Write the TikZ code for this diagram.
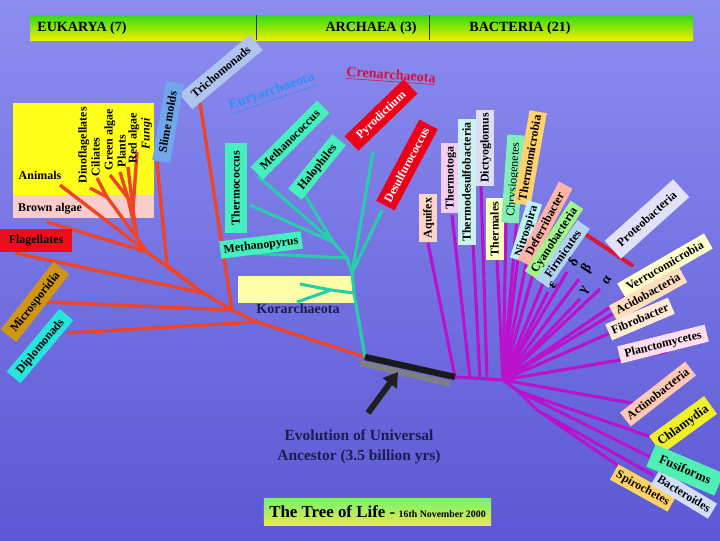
\documentclass[tikz,border=0pt]{standalone}
\usepackage{fontspec}
\setmainfont{Liberation Serif}
\usetikzlibrary{arrows.meta}

\definecolor{skytop}{RGB}{140,141,240}
\definecolor{skybot}{RGB}{92,88,212}
\definecolor{bargreen}{RGB}{50,220,20}
\definecolor{baryellow}{RGB}{238,238,0}
\definecolor{eukred}{RGB}{238,68,40}
\definecolor{arcteal}{RGB}{40,206,170}
\definecolor{bacmag}{RGB}{186,18,204}
\definecolor{inknavy}{RGB}{28,28,78}
\definecolor{crownyel}{RGB}{255,255,25}
\definecolor{crownpink}{RGB}{250,205,205}
\definecolor{flagred}{RGB}{240,12,28}
\definecolor{microgold}{RGB}{206,150,18}
\definecolor{diplocyan}{RGB}{40,228,222}
\definecolor{trichoblue}{RGB}{176,196,240}
\definecolor{slimeblue}{RGB}{112,166,236}
\definecolor{euryblue}{RGB}{45,145,245}
\definecolor{crenred}{RGB}{214,18,52}
\definecolor{pyrored}{RGB}{240,0,24}
\definecolor{arcbox}{RGB}{70,240,190}
\definecolor{korbox}{RGB}{255,255,170}
\definecolor{aqubox}{RGB}{255,212,200}
\definecolor{tmtbox}{RGB}{245,205,240}
\definecolor{tdsbox}{RGB}{205,242,240}
\definecolor{dicbox}{RGB}{222,222,246}
\definecolor{tmlbox}{RGB}{255,255,190}
\definecolor{chrbox}{RGB}{130,240,180}
\definecolor{tmcbox}{RGB}{255,210,110}
\definecolor{nitbox}{RGB}{190,240,250}
\definecolor{defbox}{RGB}{255,180,170}
\definecolor{cyabox}{RGB}{160,245,140}
\definecolor{firbox}{RGB}{180,210,245}
\definecolor{probox}{RGB}{225,225,250}
\definecolor{prored}{RGB}{222,20,50}
\definecolor{verbox}{RGB}{255,255,205}
\definecolor{acibox}{RGB}{255,222,190}
\definecolor{fibbox}{RGB}{255,236,216}
\definecolor{plabox}{RGB}{255,222,238}
\definecolor{actbox}{RGB}{255,200,180}
\definecolor{chlbox}{RGB}{240,240,40}
\definecolor{fusbox}{RGB}{80,240,180}
\definecolor{bacbox}{RGB}{210,222,250}
\definecolor{spibox}{RGB}{255,210,100}
\definecolor{tolgreen}{RGB}{115,242,110}
\definecolor{tolyellow}{RGB}{232,232,80}
\definecolor{rootgrey}{RGB}{128,128,128}

\tikzset{
  lbl/.style={font=\fontsize{8.5}{9}\selectfont\bfseries, inner xsep=2.5pt, inner ysep=1.5pt,
              text height=1.6ex, text depth=.45ex},
  slim/.style={lbl, inner ysep=0.7pt},
  crown/.style={lbl, rotate=90, anchor=west, inner sep=0.5pt},
  clade/.style={font=\fontsize{10}{12}\selectfont\bfseries, inner sep=1pt},
  greek/.style={font=\fontsize{10}{10}\selectfont\bfseries, inner sep=0.5pt, rotate=58},
  eukbr/.style={eukred, line width=2.4pt},
  arcbr/.style={arcteal, line width=2.2pt},
  bacbr/.style={bacmag, line width=2.2pt},
}

\begin{document}
\begin{tikzpicture}[x=0.025cm, y=-0.025cm, line join=round]

  % --- background ---
  \useasboundingbox (0,0) rectangle (720,540);
  \shade[top color=skytop, bottom color=skybot] (0,0) rectangle (720,540);

  % --- domains bar ---
  \shade[top color=bargreen, bottom color=baryellow] (30,15) rectangle (693,40);
  \draw[black!80, line width=0.6pt] (256,15) -- (256,40) (429,15) -- (429,40);
  \node[clade] (hdeuk) at (82,28) {EUKARYA (7)};
  \node[clade] (hdarc) at (371,28) {ARCHAEA (3)};
  \node[clade] (hdbac) at (520,28) {BACTERIA (21)};

  % --- coloured panels ---
  \fill[crownyel] (13,103) rectangle (154,195);
  \fill[crownpink] (13,195) rectangle (154,218);
  \fill[korbox] (238,276) rectangle (354,303);

  % --- branch points ---
  \coordinate (root) at (365,357);
  \coordinate (bbar) at (455,377);
  % eukarya
  \coordinate (e1) at (257,322);
  \coordinate (e2) at (232,310);
  \coordinate (e3) at (203,293);
  \coordinate (e4) at (167,265);
  \coordinate (e5) at (147,252);
  \coordinate (e6) at (137,238);
  \coordinate (c1) at (107,197);
  \coordinate (c2) at (128,198);
  \coordinate (c3) at (133,210);
  % archaea
  \coordinate (a1) at (354,293);
  \coordinate (a2) at (352,273);
  \coordinate (a3) at (347,258);
  \coordinate (a4) at (333,242);
  \coordinate (k0) at (331,290);
  % bacteria
  \coordinate (bq1) at (470,378);
  \coordinate (bq2) at (480,379);
  \coordinate (bq3) at (487,379);
  \coordinate (b0) at (503,380);
  \coordinate (b1) at (518,391);
  \coordinate (b2) at (537,410);

  % --- branch tips ---
  \coordinate (t-diplo) at (67,333);
  \coordinate (t-micro) at (45,302);
  \coordinate (t-tricho) at (200,103);
  \coordinate (t-flag) at (15,253);
  \coordinate (t-slime) at (157,162);
  \coordinate (t-animal) at (60,185);
  \coordinate (t-brown) at (47,222);
  \coordinate (t-dino) at (90,188);
  \coordinate (t-cilia) at (97,178);
  \coordinate (t-green) at (110,175);
  \coordinate (t-plant) at (120,172);
  \coordinate (t-redalg) at (128,167);
  \coordinate (t-fungi) at (137,152);

  \coordinate (t-kor1) at (300,284);
  \coordinate (t-kor2) at (297,302);
  \coordinate (t-pyro) at (373,152);
  \coordinate (t-desulf) at (382,210);
  \coordinate (t-methpyr) at (245,253);
  \coordinate (t-thermcoc) at (250,205);
  \coordinate (t-methcoc) at (258,176);
  \coordinate (t-halo) at (305,195);

  \coordinate (t-aquifex) at (428,243);
  \coordinate (t-thermotoga) at (452,215);
  \coordinate (t-thermodes) at (473,244);
  \coordinate (t-dictyo) at (481,185);
  \coordinate (t-thermales) at (497,260);
  \coordinate (t-chryso) at (506,222);
  \coordinate (t-thermomic) at (518,206);
  \coordinate (t-nitro) at (518,258);
  \coordinate (t-deferri) at (526,264);
  \coordinate (t-cyano) at (533,274);
  \coordinate (t-firmi) at (544,281);
  \coordinate (t-eps) at (548,292);
  \coordinate (t-delta) at (567,272);
  \coordinate (t-beta) at (579,279);
  \coordinate (t-gamma) at (580,299);
  \coordinate (t-alpha) at (600,289);
  \coordinate (t-verru) at (625,297);
  \coordinate (t-acido) at (614,313);
  \coordinate (t-fibro) at (610,333);
  \coordinate (t-plancto) at (667,352);
  \coordinate (t-actino) at (637,404);
  \coordinate (t-chlam) at (660,440);
  \coordinate (t-fusi) at (650,457);
  \coordinate (t-bactero) at (653,475);
  \coordinate (t-spiro) at (620,467);

  % --- eukarya branches ---
  \draw[eukbr] (root) -- (e1) -- (e2) -- (e3) -- (t-flag);
  \draw[eukbr] (e1) -- (t-diplo);
  \draw[eukbr] (e2) -- (t-micro);
  \draw[eukbr] (e2) -- (t-tricho);
  \draw[eukbr] (e3) -- (e4) -- (t-slime);
  \draw[eukbr] (e3) -- (e5) -- (t-animal);
  \draw[eukbr] (e5) -- (t-brown);
  \draw[eukbr] (e5) -- (e6) -- (c1) -- (t-dino);
  \draw[eukbr] (c1) -- (t-cilia);
  \draw[eukbr] (e6) -- (c2) -- (t-green) (c2) -- (t-plant);
  \draw[eukbr] (e6) -- (c3) -- (t-redalg) (c3) -- (t-fungi);

  % --- archaea branches ---
  \draw[arcbr] (root) -- (a1) -- (a2) -- (t-pyro);
  \draw[arcbr] (a2) -- (t-desulf);
  \draw[arcbr] (a1) -- (k0) -- (t-kor1) (k0) -- (t-kor2);
  \draw[arcbr] (a2) -- (a3) -- (t-methpyr);
  \draw[arcbr] (a3) -- (a4) -- (t-thermcoc);
  \draw[arcbr] (a4) -- (t-methcoc) (a4) -- (t-halo);

  % --- bacteria branches ---
  \draw[bacbr] (bbar) -- (b0);
  \draw[bacbr] (bbar) -- (t-aquifex);
  \draw[bacbr] (bq1) -- (t-thermotoga);
  \draw[bacbr] (bq2) -- (t-thermodes);
  \draw[bacbr] (bq3) -- (t-dictyo);
  \foreach \t in {thermales,chryso,thermomic,nitro,deferri,cyano,firmi,eps,delta,
                  beta,gamma,alpha,verru,acido,fibro,plancto,actino}
     \draw[bacbr] (b0) -- (t-\t);
  \draw[bacbr] (b0) -- (b1) -- (t-chlam) (b1) -- (t-fusi);
  \draw[bacbr] (b1) -- (b2) -- (t-bactero) (b2) -- (t-spiro);
  \draw[prored, line width=2.8pt] (585,234) -- (633,266);

  % --- universal ancestor ---
  \draw[rootgrey, line width=4pt] (360,363) -- (450,384);
  \draw[black!90, line width=4.5pt] (root) -- (bbar);
  \coordinate (arrtail) at (368,413);
  \coordinate (arrhead) at (398,372);
  \draw[-{Triangle[width=12pt,length=10pt]}, black!88, line width=4.2pt] (arrtail) -- (arrhead);
  \node[font=\fontsize{11}{14.2}\selectfont\bfseries, text=inknavy, align=center] (evo) at (359,447)
      {Evolution of Universal\\Ancestor (3.5 billion yrs)};

  % --- eukarya labels ---
  \node[lbl, fill=flagred, minimum width=1.8cm, minimum height=0.575cm] (flag) at (36,240) {Flagellates};
  \node[lbl, fill=microgold, rotate=52, minimum width=2.15cm, minimum height=0.5cm] (micro) at (35,302) {Microsporidia};
  \node[lbl, fill=diplocyan, rotate=50, minimum width=2.05cm, minimum height=0.45cm] (diplo) at (40,346) {Diplomonads};
  \node[lbl, fill=trichoblue, rotate=40, minimum width=2.3cm, minimum height=0.5cm] (tricho) at (221,72) {Trichomonads};
  \node[lbl, fill=slimeblue, rotate=80, minimum width=2cm, minimum height=0.45cm] (slime) at (168,122) {Slime molds};
  \node[lbl] (animal) at (40,176) {Animals};
  \node[lbl] (brown) at (50,208) {Brown algae};
  \node[crown] (dino) at (83,184) {Dinoflagellates};
  \node[crown] (cilia) at (96,177) {Ciliates};
  \node[crown] (green) at (109,171) {Green algae};
  \node[crown] (plant) at (122,168) {Plants};
  \node[crown] (redalg) at (133,164) {Red algae};
  \node[crown, font=\fontsize{8.5}{9}\selectfont\bfseries\itshape] (fungi) at (146,150) {Fungi};

  % --- archaea labels ---
  \node[clade, text=euryblue, rotate=19] (eury) at (272,93) {\underline{Euryarchaeota}};
  \node[clade, text=crenred, rotate=-4] (cren) at (391,76) {\underline{Crenarchaeota}};
  \node[lbl, fill=pyrored, text=white, rotate=44, minimum width=2.05cm, minimum height=0.5cm] (pyro) at (381,115) {Pyrodictium};
  \node[lbl, fill=pyrored, text=white, rotate=62, minimum width=2.3cm, minimum height=0.52cm] (desulf) at (407,165) {Desulfurococcus};
  \node[lbl, fill=arcbox, rotate=45, minimum width=2.35cm] (methcoc) at (290,140) {Methanococcus};
  \node[lbl, fill=arcbox, rotate=51, minimum width=1.75cm] (halo) at (317,167) {Halophiles};
  \node[lbl, fill=arcbox, rotate=90, minimum width=2.25cm, minimum height=0.55cm] (thermcoc) at (236,188) {Thermococcus};
  \node[lbl, fill=arcbox, rotate=7, minimum width=1.9cm] (methpyr) at (261,245) {Methanopyrus};
  \node[clade, text=inknavy] (kor) at (298,309) {Korarchaeota};

  % --- bacteria labels ---
  \node[lbl, fill=aqubox, rotate=90] (aquifex) at (428,218) {Aquifex};
  \node[lbl, fill=tmtbox, rotate=90] (thermotoga) at (450,178) {Thermotoga};
  \node[lbl, fill=tdsbox, rotate=90] (thermodes) at (467,182) {Thermodesulfobacteria};
  \node[lbl, fill=dicbox, rotate=90] (dictyo) at (485,148) {Dictyoglomus};
  \node[lbl, fill=tmlbox, rotate=90] (thermales) at (495,229) {Thermales};
  \node[lbl, fill=chrbox, rotate=86, minimum width=2.2cm, font=\fontsize{8.5}{9}\selectfont] (chryso) at (513,179) {Chrysiogenetes};
  \node[lbl, fill=tmcbox, rotate=80, minimum width=2.35cm] (thermomic) at (530,158) {Thermomicrobia};
  \node[slim, fill=nitbox, rotate=73] (nitro) at (526,231) {Nitrospira};
  \node[slim, fill=defbox, rotate=62, minimum width=2.2cm] (deferri) at (545,224) {Deferribacter};
  \node[slim, fill=cyabox, rotate=57, minimum width=2.1cm] (cyano) at (554,240) {Cyanobacteria};
  \node[slim, fill=firbox, rotate=55, minimum width=1.8cm] (firmi) at (563,254) {Firmicutes};
  \node[greek] (eps) at (553,285) {ε};
  \node[greek] (delta) at (573,262) {δ};
  \node[greek] (beta) at (587,269) {β};
  \node[greek] (gamma) at (585,291) {γ};
  \node[greek] (alpha) at (607,280) {α};
  \node[lbl, fill=probox, rotate=42, minimum width=2.3cm, minimum height=0.6cm] (proteo) at (647,219) {Proteobacteria};
  \node[lbl, fill=verbox, rotate=30, minimum width=2.5cm] (verru) at (665,266) {Verrucomicrobia};
  \node[lbl, fill=acibox, rotate=29, minimum width=2cm] (acido) at (648,294) {Acidobacteria};
  \node[lbl, fill=fibbox, rotate=23, minimum width=1.7cm] (fibro) at (640,319) {Fibrobacter};
  \node[lbl, fill=plabox, rotate=14, minimum width=2.25cm] (plancto) at (663,344) {Planctomycetes};
  \node[lbl, fill=actbox, rotate=38, minimum width=2.05cm] (actino) at (658,394) {Actinobacteria};
  \node[lbl, fill=chlbox, rotate=36, minimum width=1.7cm, minimum height=0.55cm, font=\fontsize{9}{9}\selectfont\bfseries] (chlam) at (683,425) {Chlamydia};
  \node[lbl, fill=spibox, rotate=-29, minimum width=1.55cm] (spiro) at (643,488) {Spirochetes};
  \node[lbl, fill=bacbox, rotate=-31, minimum width=1.6cm] (bactero) at (684,494) {Bacteroides};
  \node[lbl, fill=fusbox, rotate=-23, minimum width=1.85cm, minimum height=0.6cm, font=\fontsize{9}{9}\selectfont\bfseries] (fusi) at (685,470) {Fusiforms};

  % --- title box ---
  \node[top color=tolgreen, bottom color=tolyellow, minimum width=5.675cm, minimum height=0.675cm, inner sep=0pt] (tol) at (377.5,511.5)
      {{\fontsize{12}{13}\selectfont\bfseries The Tree of Life -} {\fontsize{7}{8}\selectfont\bfseries 16th November 2000}};

\end{tikzpicture}
\end{document}
